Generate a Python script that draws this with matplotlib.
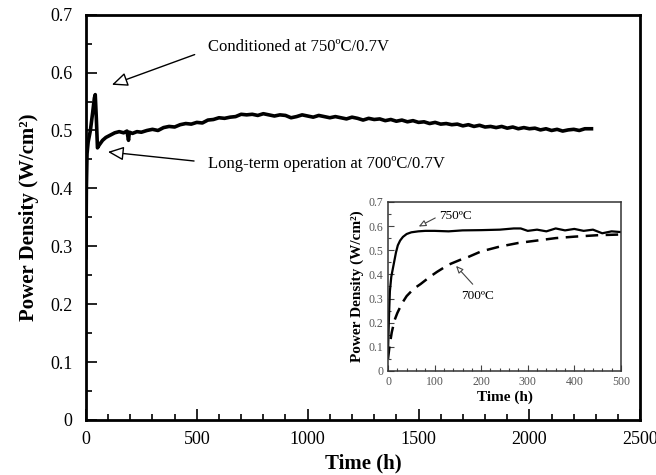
import matplotlib
matplotlib.use("Agg")
import matplotlib.pyplot as plt
from matplotlib.ticker import MultipleLocator

plt.rcParams['font.family'] = ['Liberation Serif', 'DejaVu Serif']

# Long-term run: conditioning spike at 750C then operation at 700C
main_time = [0, 2, 5, 10, 20, 30, 38, 42, 47, 52, 60, 75, 90, 110, 130, 150, 170, 185, 192, 196,
             210, 230, 250, 275, 300, 325, 350, 375, 400, 425, 450, 475, 500, 525, 550, 575,
             600, 625, 650, 675, 700, 725, 750, 775, 800, 825, 850, 875, 900, 925, 950, 975,
             1000, 1025, 1050, 1075, 1100, 1125, 1150, 1175, 1200, 1225, 1250, 1275, 1300,
             1325, 1350, 1375, 1400, 1425, 1450, 1475, 1500, 1525, 1550, 1575, 1600, 1625,
             1650, 1675, 1700, 1725, 1750, 1775, 1800, 1825, 1850, 1875, 1900, 1925, 1950,
             1975, 2000, 2025, 2050, 2075, 2100, 2125, 2150, 2175, 2200, 2225, 2250, 2280]
main_power = [0.28, 0.40, 0.46, 0.48, 0.50, 0.53, 0.556, 0.562, 0.52, 0.470, 0.475, 0.483, 0.488,
              0.492, 0.496, 0.498, 0.496, 0.499, 0.483, 0.497,
              0.495, 0.498, 0.497, 0.500, 0.502, 0.500, 0.505, 0.507, 0.506, 0.510, 0.512, 0.511,
              0.514, 0.513, 0.518, 0.519, 0.522, 0.521, 0.523, 0.524, 0.528, 0.527, 0.528, 0.526,
              0.529, 0.527, 0.525, 0.527, 0.526, 0.522, 0.524, 0.527, 0.525, 0.523, 0.526, 0.524,
              0.522, 0.524, 0.522, 0.520, 0.523, 0.521, 0.518, 0.521, 0.519, 0.520, 0.517, 0.519,
              0.516, 0.518, 0.515, 0.517, 0.514, 0.515, 0.512, 0.514, 0.511, 0.512, 0.510, 0.511,
              0.508, 0.510, 0.507, 0.509, 0.506, 0.507, 0.505, 0.507, 0.504, 0.506, 0.503, 0.505,
              0.503, 0.504, 0.501, 0.503, 0.500, 0.502, 0.499, 0.501, 0.502, 0.500, 0.503, 0.503]

# First 500 h at the two temperatures
t750 = [0, 2, 4, 7, 10, 13, 17, 21, 26, 32, 40, 50, 65, 80, 100, 130, 160, 200, 240, 270, 285,
        300, 320, 340, 360, 380, 400, 420, 440, 460, 480, 500]
p750 = [0.08, 0.22, 0.33, 0.39, 0.42, 0.45, 0.49, 0.52, 0.54, 0.555, 0.567, 0.574, 0.578, 0.58,
        0.58, 0.578, 0.582, 0.583, 0.585, 0.59, 0.59, 0.58, 0.585, 0.578, 0.59, 0.582, 0.588,
        0.58, 0.585, 0.57, 0.578, 0.575]
t700 = [0, 3, 8, 14, 20, 30, 40, 55, 70, 90, 105, 130, 155, 170, 200, 240, 280, 320, 360, 400,
        450, 500]
p700 = [0.05, 0.10, 0.16, 0.21, 0.24, 0.28, 0.31, 0.34, 0.36, 0.39, 0.41, 0.44, 0.46, 0.47,
        0.495, 0.515, 0.53, 0.54, 0.55, 0.556, 0.562, 0.565]

yticks = [0, 0.1, 0.2, 0.3, 0.4, 0.5, 0.6, 0.7]
ylabels = ['0', '0.1', '0.2', '0.3', '0.4', '0.5', '0.6', '0.7']

fig = plt.figure(figsize=(6.56, 4.75), dpi=100)
ax = fig.add_axes([0.131, 0.116, 0.845, 0.853])
ax.plot(main_time, main_power, color='black', lw=2.6)
ax.set_xlim(0, 2500)
ax.set_ylim(0, 0.7)
ax.xaxis.set_major_locator(MultipleLocator(500))
ax.xaxis.set_minor_locator(MultipleLocator(100))
ax.set_yticks(yticks)
ax.set_yticklabels(ylabels)
ax.yaxis.set_minor_locator(MultipleLocator(0.05))
ax.tick_params(which='both', direction='in', labelsize=13, width=1.2)
ax.tick_params(which='major', length=8)
ax.tick_params(which='minor', length=4)
ax.tick_params(axis='x', pad=8)
ax.tick_params(axis='y', pad=9.5)
for sp in ax.spines.values():
    sp.set_linewidth(2)
ax.set_xlabel('Time (h)', fontsize=15, fontweight='bold')
ax.set_ylabel('Power Density (W/cm²)', fontsize=15, fontweight='bold', labelpad=8)

open_head = dict(arrowstyle='-|>,head_length=0.8,head_width=0.35', fc='white', ec='black', lw=1)
ax.annotate('Conditioned at 750ºC/0.7V', xy=(117, 0.579), xytext=(550, 0.645),
            fontsize=12, va='center', ha='left',
            arrowprops=dict(open_head, shrinkA=8, shrinkB=0, relpos=(0, 0.3)))
ax.annotate('Long-term operation at 700ºC/0.7V', xy=(99, 0.463), xytext=(550, 0.442),
            fontsize=12, va='center', ha='left',
            arrowprops=dict(open_head, shrinkA=8, shrinkB=0, relpos=(0, 0.6)))

ins = fig.add_axes([0.5915, 0.219, 0.355, 0.356])
ins.plot(t750, p750, color='black', lw=1.6)
ins.plot(t700, p700, color='black', lw=1.8, dashes=(5, 3))
ins.set_xlim(0, 500)
ins.set_ylim(0, 0.7)
ins.xaxis.set_major_locator(MultipleLocator(100))
ins.xaxis.set_minor_locator(MultipleLocator(20))
ins.set_yticks(yticks)
ins.set_yticklabels(ylabels)
ins.yaxis.set_minor_locator(MultipleLocator(0.05))
ins.tick_params(which='both', direction='in', labelsize=8.5, width=0.8, colors='#444444',
                labelcolor='#555555')
ins.tick_params(which='major', length=4)
ins.tick_params(which='minor', length=2)
for sp in ins.spines.values():
    sp.set_linewidth(1.1)
    sp.set_color('#333333')
ins.set_xlabel('Time (h)', fontsize=11, fontweight='bold', labelpad=2)
ins.set_ylabel('Power Density (W/cm²)', fontsize=11, fontweight='bold', labelpad=3)

small_head = dict(arrowstyle='-|>,head_length=0.45,head_width=0.2', fc='white', ec='#444444', lw=0.8)
ins.annotate('750ºC', xy=(66, 0.598), xytext=(110, 0.642), fontsize=9.5, va='center', ha='left',
             arrowprops=dict(small_head, shrinkA=1, shrinkB=0, relpos=(0, 0.5)))
ins.annotate('700ºC', xy=(146, 0.435), xytext=(158, 0.31), fontsize=9.5, va='center', ha='left',
             arrowprops=dict(small_head, shrinkA=3, shrinkB=0, relpos=(0.5, 1)))

fig.savefig('out.png', dpi=100)
